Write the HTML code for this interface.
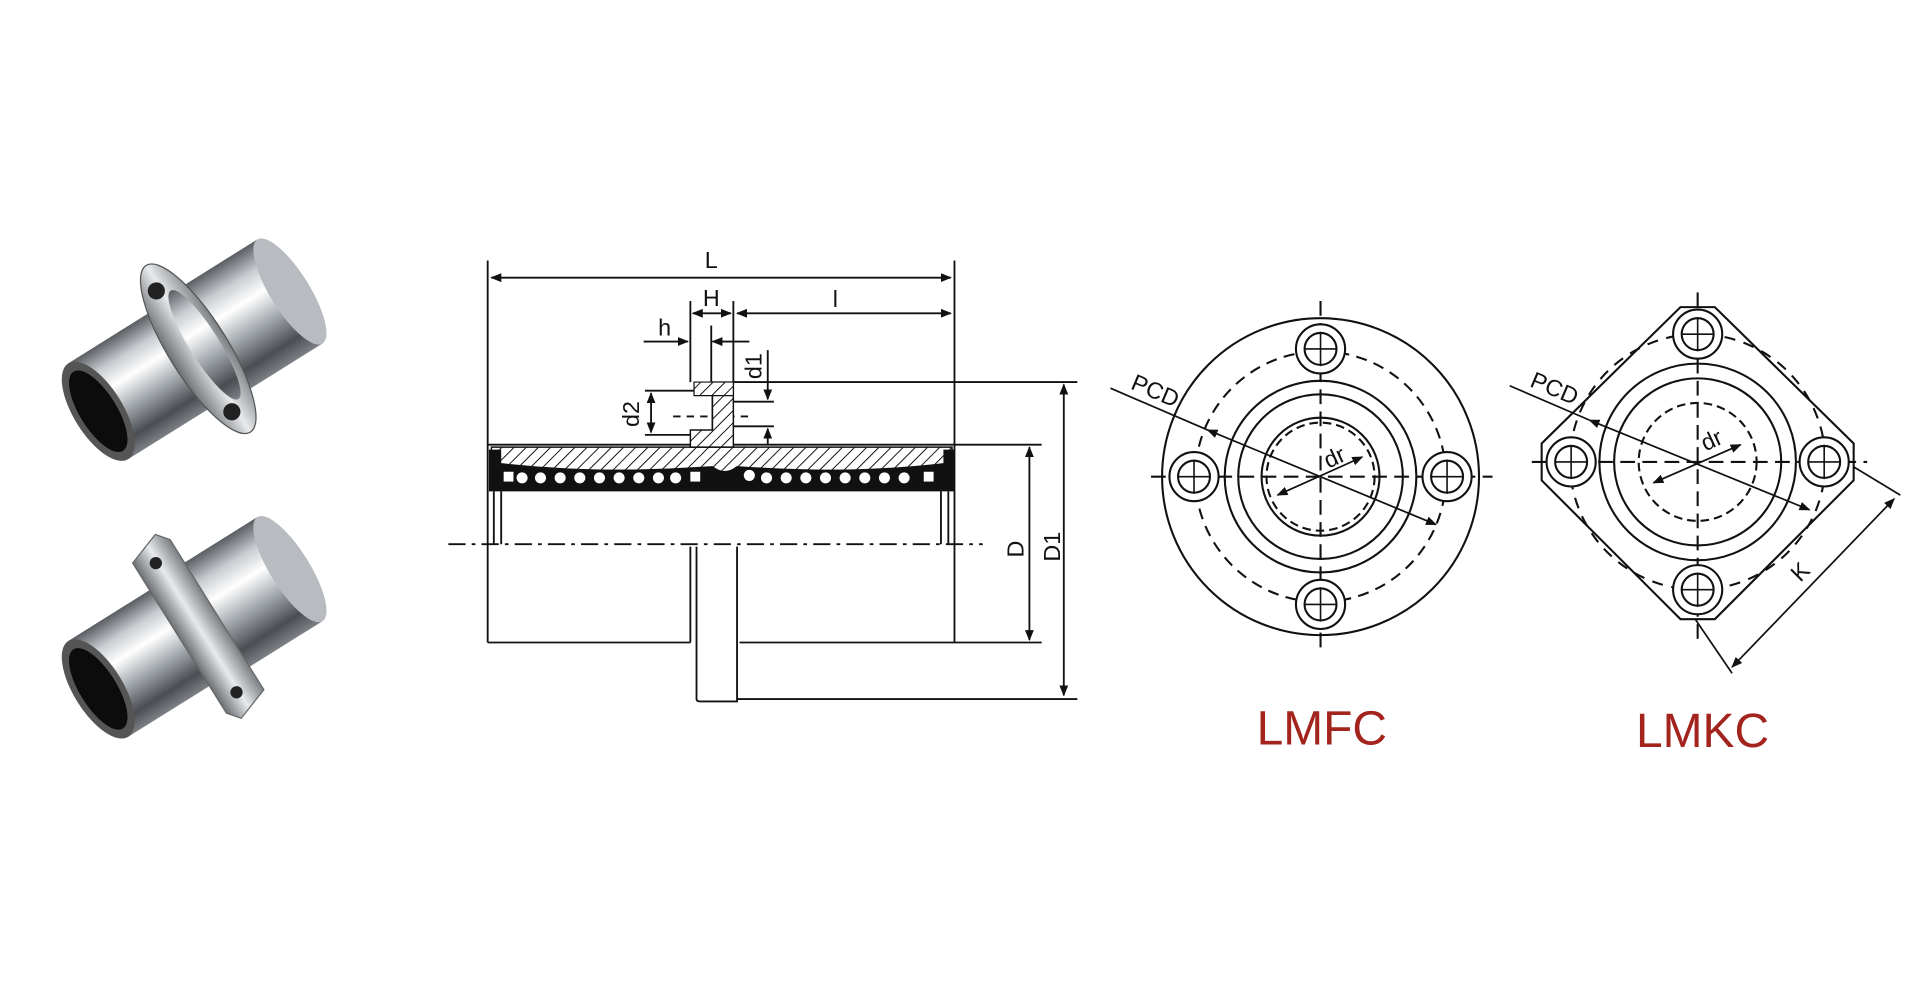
<!DOCTYPE html>
<html><head><meta charset="utf-8"><style>
html,body{margin:0;padding:0;background:#fff;}
svg{display:block;}
text{font-family:"Liberation Sans",Arial,sans-serif;}
</style></head><body>
<svg width="1920" height="1000" viewBox="0 0 1563 814" preserveAspectRatio="none" xmlns="http://www.w3.org/2000/svg">
<defs>
<linearGradient id="metal" x1="0" y1="0" x2="0" y2="1">
<stop offset="0" stop-color="#5a5e62"/><stop offset="0.2" stop-color="#c9cdd1"/><stop offset="0.38" stop-color="#ffffff"/><stop offset="0.6" stop-color="#a8adb2"/><stop offset="0.85" stop-color="#4a4e52"/><stop offset="1" stop-color="#7d8186"/>
</linearGradient>
<linearGradient id="flg" x1="0" y1="0" x2="1" y2="0">
<stop offset="0" stop-color="#6b6f73"/><stop offset="0.5" stop-color="#e8eaec"/><stop offset="1" stop-color="#7a7e82"/>
</linearGradient>
<pattern id="hatch" patternUnits="userSpaceOnUse" width="7" height="7" patternTransform="rotate(45)">
<rect width="7" height="7" fill="#fff"/><line x1="0" y1="0" x2="0" y2="7" stroke="#111" stroke-width="1.6"/>
</pattern>
<marker id="ar" viewBox="0 0 10 10" refX="9" refY="5" markerWidth="9" markerHeight="9" orient="auto-start-reverse" markerUnits="userSpaceOnUse"><path d="M0,1 L10,5 L0,9 z" fill="#111"/></marker>
</defs>

<!-- Photos -->
<g transform="translate(158,286) rotate(-32)">
<rect x="-92" y="-46" width="90" height="92" fill="url(#metal)"/>
<rect x="12" y="-50" width="80" height="100" fill="url(#metal)"/>
<ellipse cx="92" cy="0" rx="16" ry="50" fill="#b8bcc0"/>
<ellipse cx="4" cy="0" rx="24" ry="80" fill="url(#flg)" stroke="#555"/>
<ellipse cx="10" cy="0" rx="12" ry="52" fill="url(#metal)"/>
<circle cx="0" cy="-58" r="7" fill="#222"/><circle cx="0" cy="58" r="7" fill="#222"/>
<ellipse cx="-92" cy="0" rx="20" ry="46" fill="#555"/>
<ellipse cx="-92" cy="0" rx="15" ry="38" fill="#0c0c0c"/>
</g>
<g transform="translate(158,512) rotate(-32)">
<rect x="-92" y="-46" width="90" height="92" fill="url(#metal)"/>
<rect x="12" y="-50" width="80" height="100" fill="url(#metal)"/>
<ellipse cx="92" cy="0" rx="16" ry="50" fill="#b8bcc0"/>
<path d="M-14,-72 L14,-82 L22,-72 V72 L-6,82 L-14,72 Z" fill="url(#flg)" stroke="#666"/>
<circle cx="2" cy="-62" r="5" fill="#222"/><circle cx="2" cy="62" r="5" fill="#222"/>
<ellipse cx="-92" cy="0" rx="20" ry="46" fill="#555"/>
<ellipse cx="-92" cy="0" rx="15" ry="38" fill="#0c0c0c"/>
</g>

<!-- Section drawing -->
<g stroke="#111" stroke-width="1.5" fill="none">
<line x1="397" y1="212" x2="397" y2="523"/>
<line x1="777" y1="212" x2="777" y2="523"/>
<line x1="400" y1="226" x2="774" y2="226" marker-start="url(#ar)" marker-end="url(#ar)"/>
<line x1="562" y1="245" x2="562" y2="311"/>
<line x1="597" y1="245" x2="597" y2="311"/>
<line x1="564" y1="255" x2="595" y2="255" marker-start="url(#ar)" marker-end="url(#ar)"/>
<line x1="600" y1="255" x2="774" y2="255" marker-start="url(#ar)" marker-end="url(#ar)"/>
<line x1="579" y1="265" x2="579" y2="311"/>
<line x1="524" y1="278" x2="560" y2="278" marker-end="url(#ar)"/>
<line x1="610" y1="278" x2="580" y2="278" marker-end="url(#ar)"/>
<line x1="597" y1="311" x2="877" y2="311"/>
<line x1="525" y1="318" x2="580" y2="318"/>
<line x1="525" y1="354" x2="565" y2="354"/>
<line x1="530" y1="320" x2="530" y2="352" marker-start="url(#ar)" marker-end="url(#ar)"/>
<line x1="597" y1="327" x2="630" y2="327"/>
<line x1="597" y1="347" x2="630" y2="347"/>
<line x1="625" y1="285" x2="625" y2="325" marker-end="url(#ar)"/>
<line x1="625" y1="362" x2="625" y2="349" marker-end="url(#ar)"/>
<line x1="548" y1="339" x2="610" y2="339" stroke-dasharray="6,5"/>
<line x1="580" y1="318" x2="580" y2="354"/>
<line x1="397" y1="362" x2="777" y2="362"/>
<line x1="777" y1="362" x2="848" y2="362"/>
<line x1="838" y1="364" x2="838" y2="521" marker-start="url(#ar)" marker-end="url(#ar)"/>
<line x1="866" y1="313" x2="866" y2="566" marker-start="url(#ar)" marker-end="url(#ar)"/>
<line x1="397" y1="523" x2="562" y2="523"/>
<line x1="602" y1="523" x2="848" y2="523"/>
<line x1="600" y1="569" x2="877" y2="569"/>
<path d="M567,445 V569 Q567,571 570,571 H600 V445"/>
<line x1="562" y1="445" x2="562" y2="523"/>
<line x1="402" y1="400" x2="402" y2="443"/><line x1="408" y1="400" x2="408" y2="443"/>
<line x1="766" y1="400" x2="766" y2="443"/><line x1="772" y1="400" x2="772" y2="443"/>
<line x1="365" y1="443" x2="800" y2="443" stroke-dasharray="14,5,3,5"/>
</g>
<path d="M400,364 H775 V380 Q690,386 600,380 Q590,388 580,380 Q490,386 400,380 Z" fill="url(#hatch)" stroke="#111" stroke-width="1.2"/>
<path d="M562,364 V350 H580 V311 H597 V364 Z" fill="url(#hatch)" stroke="#111" stroke-width="1.2"/>
<path d="M565,311 H597 V322 H565 Z" fill="url(#hatch)" stroke="#111" stroke-width="1"/>
<path d="M398,366 H408 V377 Q490,386 580,380 Q590,388 600,380 Q690,386 768,377 V366 H777 V400 H398 Z" fill="#111"/>
<g fill="#fff">
<circle cx="425" cy="389" r="4.5"/><circle cx="440" cy="389" r="4.5"/><circle cx="456" cy="389" r="4.5"/><circle cx="472" cy="389" r="4.5"/><circle cx="488" cy="389" r="4.5"/><circle cx="504" cy="389" r="4.5"/><circle cx="520" cy="389" r="4.5"/><circle cx="536" cy="389" r="4.5"/><circle cx="550" cy="389" r="4.5"/>
<circle cx="610" cy="387" r="4.5"/><circle cx="624" cy="389" r="4.5"/><circle cx="640" cy="389" r="4.5"/><circle cx="656" cy="389" r="4.5"/><circle cx="672" cy="389" r="4.5"/><circle cx="688" cy="389" r="4.5"/><circle cx="704" cy="389" r="4.5"/><circle cx="720" cy="389" r="4.5"/><circle cx="736" cy="389" r="4.5"/>
<rect x="410" y="384" width="8" height="8"/><rect x="562" y="384" width="8" height="8"/><rect x="752" y="384" width="8" height="8"/>
</g>
<g font-size="19" fill="#111">
<text x="579" y="218" text-anchor="middle">L</text>
<text x="579" y="249" text-anchor="middle">H</text>
<text x="680" y="250" text-anchor="middle">l</text>
<text x="541" y="273" text-anchor="middle">h</text>
<text transform="translate(620,298) rotate(-90)" text-anchor="middle">d1</text>
<text transform="translate(520,337) rotate(-90)" text-anchor="middle">d2</text>
<text transform="translate(833,447) rotate(-90)" text-anchor="middle">D</text>
<text transform="translate(863,445) rotate(-90)" text-anchor="middle">D1</text>
</g>

<!-- LMFC -->
<g stroke="#111" stroke-width="1.7" fill="none">
<line x1="1075" y1="245" x2="1075" y2="533" stroke-dasharray="12,6"/>
<line x1="937" y1="388" x2="1215" y2="388" stroke-dasharray="12,6"/>
<circle cx="1075" cy="388" r="129"/>
<circle cx="1075" cy="388" r="102" stroke-dasharray="9,6"/>
<circle cx="1075" cy="388" r="78"/>
<circle cx="1075" cy="388" r="67"/>
<circle cx="1075" cy="388" r="48"/>
<circle cx="1075" cy="388" r="44" stroke-dasharray="7,4"/>
<g fill="#fff"><circle cx="1075" cy="284" r="20"/><circle cx="1075" cy="492" r="20"/><circle cx="972" cy="388" r="20"/><circle cx="1178" cy="388" r="20"/></g>
<circle cx="1075" cy="284" r="13"/><circle cx="1075" cy="492" r="13"/><circle cx="972" cy="388" r="13"/><circle cx="1178" cy="388" r="13"/>
<path d="M1075,270V298M1062,284H1088M1075,478V506M1062,492H1088M972,374V402M959,388H985M1178,374V402M1165,388H1191" stroke-width="1.3"/>
<line x1="904" y1="316" x2="983" y2="350" stroke-width="1.4"/>
<line x1="983" y1="350" x2="1169" y2="427" stroke-width="1.4" marker-start="url(#ar)" marker-end="url(#ar)"/>
<line x1="1040" y1="403" x2="1109" y2="372" stroke-width="1.4" marker-start="url(#ar)" marker-end="url(#ar)"/>
</g>
<text transform="translate(938,324) rotate(23)" font-size="19" text-anchor="middle" fill="#111">PCD</text>
<text transform="translate(1089,378) rotate(-25)" font-size="19" text-anchor="middle" fill="#111">dr</text>
<text x="1076" y="606" font-size="39" text-anchor="middle" fill="#a3231d">LMFC</text>

<!-- LMKC -->
<g stroke="#111" stroke-width="1.7" fill="none">
<line x1="1382" y1="238" x2="1382" y2="520" stroke-dasharray="12,6"/>
<line x1="1247" y1="376" x2="1520" y2="376" stroke-dasharray="12,6"/>
<path d="M1368,250 H1396 L1509,361 V391 L1396,504 H1368 L1255,391 V361 Z"/>
<circle cx="1382" cy="376" r="104" stroke-dasharray="9,7"/>
<circle cx="1382" cy="376" r="80"/>
<circle cx="1382" cy="376" r="68"/>
<circle cx="1382" cy="376" r="48" stroke-dasharray="7,4"/>
<g fill="#fff"><circle cx="1382" cy="272" r="20"/><circle cx="1382" cy="480" r="20"/><circle cx="1279" cy="376" r="20"/><circle cx="1485" cy="376" r="20"/></g>
<circle cx="1382" cy="272" r="13"/><circle cx="1382" cy="480" r="13"/><circle cx="1279" cy="376" r="13"/><circle cx="1485" cy="376" r="13"/>
<path d="M1382,258V286M1369,272H1395M1382,466V494M1369,480H1395M1279,362V390M1266,376H1292M1485,362V390M1472,376H1498" stroke-width="1.3"/>
<line x1="1229" y1="314" x2="1294" y2="342" stroke-width="1.4"/>
<line x1="1294" y1="342" x2="1473" y2="415" stroke-width="1.4" marker-start="url(#ar)" marker-end="url(#ar)"/>
<line x1="1346" y1="393" x2="1417" y2="362" stroke-width="1.4" marker-start="url(#ar)" marker-end="url(#ar)"/>
<line x1="1380" y1="504" x2="1410" y2="548" stroke-width="1.4"/>
<line x1="1509" y1="380" x2="1547" y2="403" stroke-width="1.4"/>
<line x1="1410" y1="543" x2="1542" y2="406" stroke-width="1.4" marker-start="url(#ar)" marker-end="url(#ar)"/>
</g>
<text transform="translate(1263,322) rotate(23)" font-size="19" text-anchor="middle" fill="#111">PCD</text>
<text transform="translate(1396,364) rotate(-25)" font-size="19" text-anchor="middle" fill="#111">dr</text>
<text transform="translate(1470,470) rotate(-45)" font-size="19" text-anchor="middle" fill="#111">K</text>
<text x="1386" y="608" font-size="39" text-anchor="middle" fill="#a3231d">LMKC</text>
</svg>
</body></html>
